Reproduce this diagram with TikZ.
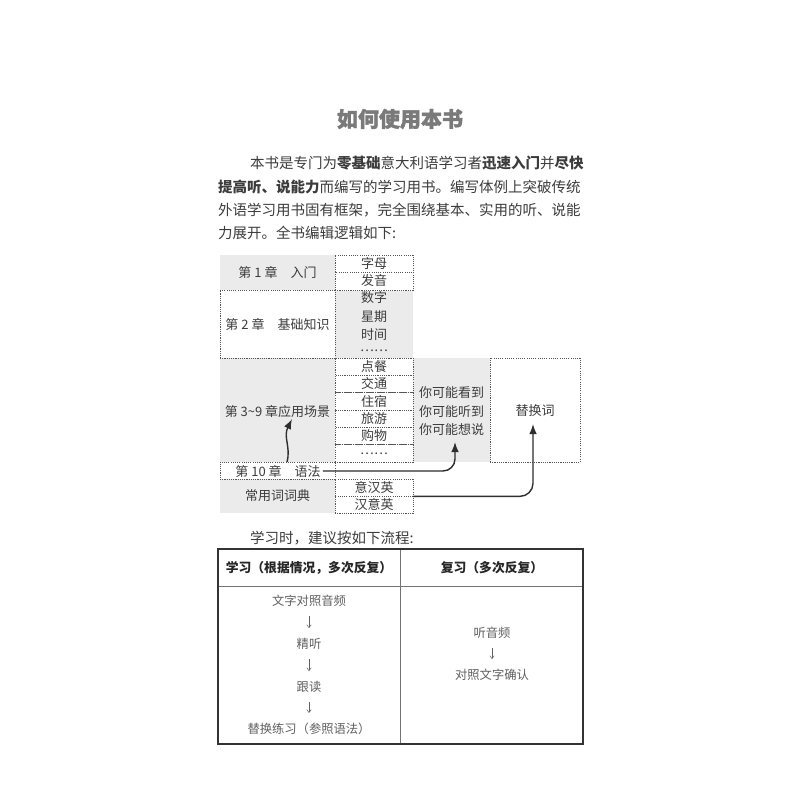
\documentclass[tikz,border=0pt]{standalone}
\usepackage{fontspec}
\setmainfont{Noto Sans CJK SC}
\newfontfamily\ttlfont[BoldFeatures={FakeBold=1.6}]{Noto Sans CJK SC}
\usetikzlibrary{arrows.meta}
\definecolor{gbg}{HTML}{EBEBEB}
\definecolor{txt}{HTML}{3C3C3C}
\definecolor{dline}{HTML}{555555}
\definecolor{arrc}{HTML}{2E2E2E}
\definecolor{ttl}{HTML}{7A7A7A}
\definecolor{body}{HTML}{606060}
\tikzset{
  gcell/.style={fill=gbg, draw=none, inner sep=0pt, font=\fontsize{13}{18.3}\selectfont, text=txt},
  dcell/.style={fill=white, draw=dline, dash pattern=on 1.1pt off 1.1pt, line width=0.7pt, inner sep=0pt, font=\fontsize{13}{18.3}\selectfont, text=txt},
  lbl/.style={inner sep=0pt, font=\fontsize{13}{18.3}\selectfont, text=txt},
  para/.style={inner sep=0pt, anchor=west, font=\fontsize{14.5}{17}\selectfont, text=txt},
  arr/.style={line width=1.4pt, draw=arrc, -{Latex[length=10pt,width=7.5pt]}},
  hdr/.style={inner sep=0pt, font=\fontsize{12.8}{15}\selectfont\bfseries, text=black!85},
  tbody/.style={inner sep=0pt, font=\fontsize{12.3}{15}\selectfont, text=body},
  flow/.style={line width=0.5pt, draw=body, -{Straight Barb[length=3pt,width=4.5pt]}, shorten <=9pt, shorten >=10pt},
}
\begin{document}
\begin{tikzpicture}[x=1pt,y=-1pt]
\useasboundingbox[fill=white] (0,0) rectangle (800,800);

% title and paragraph
\node[inner sep=0pt, font=\fontsize{21}{24}\selectfont\ttlfont\bfseries, text=ttl] (title) at (400,119) {如何使用本书};
\node[para] (p1) at (250,163) {本书是专门为{\bfseries 零基础}意大利语学习者{\bfseries 迅速入门}并{\bfseries 尽快}};
\node[para] (p2) at (218,187) {{\bfseries 提高听、说能力}而编写的学习用书。编写体例上突破传统};
\node[para] (p3) at (218,210) {外语学习用书固有框架，完全围绕基本、实用的听、说能};
\node[para] (p4) at (218,233) {力展开。全书编辑逻辑如下:};

% gray areas
\node[gcell, minimum width=115pt, minimum height=35pt] (ch1) at (277.5,272.5) {第 1 章　入门};
\node[gcell, minimum width=78pt, minimum height=68pt] (kn) at (374,324.5) {};
\node[lbl] (kn1) at (374,298) {数字};
\node[lbl] (kn2) at (374,317) {星期};
\node[lbl] (kn3) at (374,335) {时间};
\node[lbl] (kn4) at (374,351) {……};
\node[gcell, minimum width=115pt, minimum height=104pt] (ch39) at (277.5,410) {};
\node[gcell, minimum width=77pt, minimum height=104pt] (you) at (451.5,410) {};
\node[lbl] (y1) at (451.5,393) {你可能看到};
\node[lbl] (y2) at (451.5,411.5) {你可能听到};
\node[lbl] (y3) at (451.5,430) {你可能想说};
\node[gcell, minimum width=115pt, minimum height=34pt] (dict) at (277.5,496) {常用词词典};
\node[lbl] (ch39t) at (277.5,412) {第 3\textasciitilde 9 章应用场景};

% dashed cells
\node[dcell, minimum width=78pt, minimum height=17pt] (zm) at (374,263.5) {字母};
\node[dcell, minimum width=78pt, minimum height=18pt] (fy) at (374,281) {发音};
\node[dcell, minimum width=115pt, minimum height=68pt] (ch2) at (277.5,324) {第 2 章　基础知识};
\node[dcell, minimum width=78pt, minimum height=17.33pt] (s1) at (374,366.67) {点餐};
\node[dcell, minimum width=78pt, minimum height=17.33pt] (s2) at (374,384) {交通};
\node[dcell, minimum width=78pt, minimum height=17.33pt] (s3) at (374,401.33) {住宿};
\node[dcell, minimum width=78pt, minimum height=17.33pt] (s4) at (374,418.67) {旅游};
\node[dcell, minimum width=78pt, minimum height=17.33pt] (s5) at (374,436) {购物};
\node[dcell, minimum width=78pt, minimum height=17.33pt] (s6) at (374,453.33) {……};
\node[dcell, minimum width=90pt, minimum height=104pt] (th) at (535,410) {};
\node[lbl] (tht) at (535,411) {替换词};
\node[dcell, minimum width=115pt, minimum height=17pt] (ch10) at (277.5,470.5) {};
\node[lbl] (ch10t) at (278,471) {第 10 章　语法};
\node[dcell, minimum width=78pt, minimum height=17pt] (yh) at (374,487.5) {意汉英};
\node[dcell, minimum width=78pt, minimum height=17pt] (hy) at (374,504.5) {汉意英};

% connectors
\coordinate (a1s) at (287,462);
\coordinate (a1e) at (292,419);
\coordinate (a2s) at ([xshift=2pt]ch10t.east);
\coordinate (a2e) at (455,442);
\coordinate (a3e) at (533,424);
\draw[arr] (a1s) .. controls (291,447) and (283,437) .. (a1e);
\draw[arr, rounded corners=12pt] (a2s) -| (a2e);
\draw[arr, rounded corners=13pt] (yh.south east) -| (a3e);

% second paragraph
\node[para] (p5) at (250,538) {学习时，建议按如下流程:};

% table
\draw[line width=0.8pt, draw=black!55] (218,586) -- (583,586);
\draw[line width=0.8pt, draw=black!55] (400,549) -- (400,744);
\draw[line width=1.3pt, draw=black!80] (218,549) rectangle (583,744);
\node[hdr] (h1) at (309,568) {学习（根据情况，多次反复）};
\node[hdr] (h2) at (492,568) {复习（多次反复）};
\node[tbody] (l1) at (309,601) {文字对照音频};
\node[tbody] (l2) at (309,644) {精听};
\node[tbody] (l3) at (309,687) {跟读};
\node[tbody] (l4) at (309,729) {替换练习（参照语法）};
\node[tbody] (r1) at (492,633) {听音频};
\node[tbody] (r2) at (492,675) {对照文字确认};
\draw[flow] (l1) -- (l2);
\draw[flow] (l2) -- (l3);
\draw[flow] (l3) -- (l4);
\draw[flow] (r1) -- (r2);
\end{tikzpicture}
\end{document}
